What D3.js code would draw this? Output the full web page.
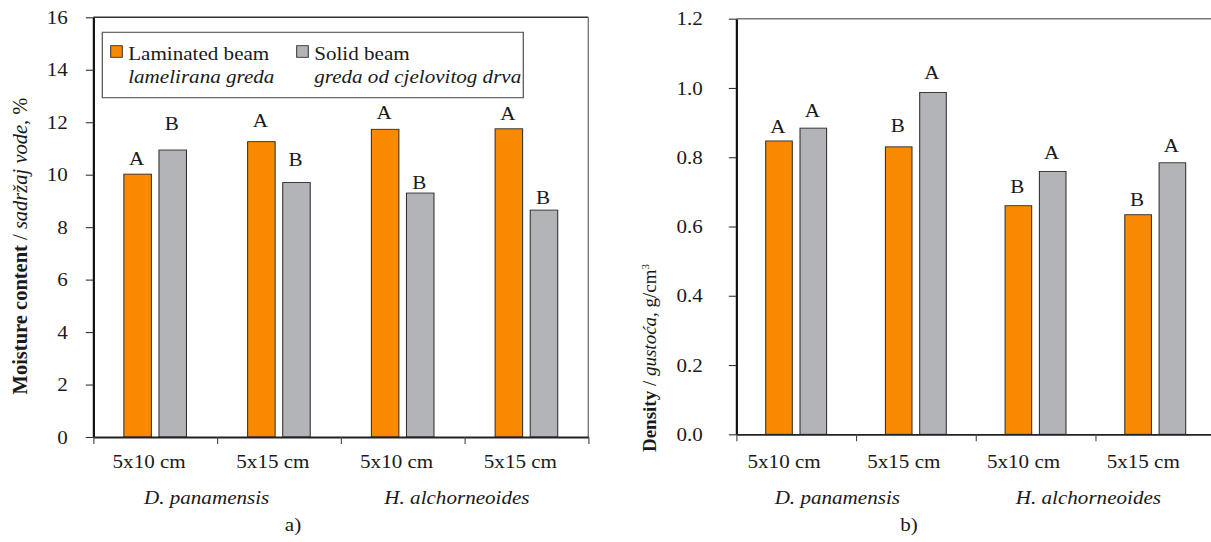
<!DOCTYPE html>
<html>
<head>
<meta charset="utf-8">
<script src="https://cdn.jsdelivr.net/npm/d3@7"></script>
<style>
  html, body { margin: 0; padding: 0; background: #fff; }
  svg { display: block; }
  text { font-family: "Liberation Serif", "Times New Roman", serif; fill: #1a1a1a; }
</style>
</head>
<body>
<svg id="fig" width="1211" height="542"></svg>
<script>
// ---- data ----
const sizes = ["5x10 cm", "5x15 cm", "5x10 cm", "5x15 cm"];
const species = ["D. panamensis", "H. alchorneoides"];
const seriesNames = ["Laminated beam", "Solid beam"];
const seriesNamesHr = ["lamelirana greda", "greda od cjelovitog drva"];

// a) moisture content, %
const moistureLaminated = [10.02, 11.26, 11.73, 11.75];
const moistureSolid = [10.94, 9.70, 9.30, 8.65];
const moistureLettersLaminated = ["A", "A", "A", "A"];
const moistureLettersSolid = ["B", "B", "B", "B"];
// value level at which each significance letter sits
const moistureLetterLevelLaminated = [10.36, 11.80, 12.14, 12.08];
const moistureLetterLevelSolid = [11.70, 10.34, 9.47, 8.90];
const moistureTicks = [0, 2, 4, 6, 8, 10, 12, 14, 16];

// b) density, g/cm3
const densityLaminated = [0.847, 0.830, 0.660, 0.634];
const densitySolid = [0.884, 0.987, 0.759, 0.784];
const densityLettersLaminated = ["A", "B", "B", "B"];
const densityLettersSolid = ["A", "A", "A", "A"];
const densityLetterLevelLaminated = [0.870, 0.872, 0.696, 0.659];
const densityLetterLevelSolid = [0.915, 1.025, 0.794, 0.816];
const densityTicks = [0, 0.2, 0.4, 0.6, 0.8, 1.0, 1.2];

// ---- drawing ----
const W = 1211, H = 542;
const SX = 1.14;                // horizontal stretch of the serif lettering
const px = v => v / SX;         // screen x -> user x
const ORANGE = "#f98a00", GREY = "#b3b4b8";
const FONT = 18.5;

const svg = d3.select("#fig")
  .attr("viewBox", `0 0 ${W / SX} ${H}`)
  .attr("preserveAspectRatio", "none");

function panel(o) {
  const g = svg.append("g");
  const x = d3.scaleBand().domain(d3.range(sizes.length)).range([px(o.x0), px(o.x1)]);
  const xb = d3.scaleLinear().domain([0, sizes.length]).range([px(o.x0), px(o.x1)]);
  const y = d3.scaleLinear().domain([0, o.max]).range([o.y0, o.yTop]);

  // frame: top and (optional) right border
  g.append("line").attr("x1", px(o.x0)).attr("x2", px(o.x1))
    .attr("y1", y(o.max)).attr("y2", y(o.max))
    .attr("stroke", o.topColor).attr("stroke-width", 1.6);
  if (o.rightBorder) {
    g.append("line").attr("x1", px(o.x1)).attr("x2", px(o.x1))
      .attr("y1", y(o.max)).attr("y2", y(0))
      .attr("stroke", "#777").attr("stroke-width", 1.2);
  }

  // bars
  const bw = px(o.barW), gap = px(o.gap);
  const series = [
    { vals: o.lam, color: ORANGE, letters: o.lamLetters, levels: o.lamLevels, dx: -gap / 2 - bw },
    { vals: o.sol, color: GREY, letters: o.solLetters, levels: o.solLevels, dx: gap / 2 }
  ];
  series.forEach(s => {
    const cx = i => x(i) + x.bandwidth() / 2 + s.dx;
    g.selectAll(null).data(s.vals).join("rect")
      .attr("x", (d, i) => cx(i)).attr("width", bw)
      .attr("y", d => y(d)).attr("height", d => y(0) - y(d))
      .attr("fill", s.color).attr("stroke", "#2b2b2b").attr("stroke-width", 0.9);
    g.selectAll(null).data(s.letters).join("text")
      .attr("x", (d, i) => cx(i) + bw / 2 - px(1))
      .attr("y", (d, i) => y(s.levels[i]))
      .attr("text-anchor", "middle").attr("font-size", FONT)
      .text(d => d);
  });

  // y axis
  const ya = g.append("g").attr("transform", `translate(${px(o.x0)},0)`)
    .call(d3.axisLeft(y).tickValues(o.ticks).tickFormat(o.fmt)
      .tickSize(px(7.5)).tickSizeOuter(0).tickPadding(px(o.labelGap)));
  ya.select(".domain").attr("stroke", "#111").attr("stroke-width", px(2.2));
  ya.selectAll(".tick line").attr("stroke", "#333").attr("stroke-width", 1.1);
  ya.selectAll(".tick text").attr("font-size", FONT).attr("font-family", null)
    .attr("fill", "#1a1a1a").attr("dy", "0.33em");

  // x axis with ticks on the category boundaries
  const xa = g.append("g").attr("transform", `translate(0,${y(0)})`)
    .call(d3.axisBottom(xb).tickValues(d3.range(sizes.length + 1))
      .tickFormat("").tickSize(7).tickSizeOuter(0));
  xa.select(".domain").attr("stroke", "#222").attr("stroke-width", 1.8);
  xa.selectAll(".tick line").attr("stroke", "#444").attr("stroke-width", px(1.1));

  // category labels
  g.selectAll(null).data(sizes).join("text")
    .attr("x", (d, i) => x(i) + x.bandwidth() / 2 + px(o.catShift))
    .attr("y", 468).attr("text-anchor", "middle").attr("font-size", FONT)
    .text(d => d);

  // species labels under each pair of categories
  g.selectAll(null).data(species).join("text")
    .attr("x", (d, i) => xb(2 * i + 1) + px(o.spShift[i]))
    .attr("y", 504).attr("text-anchor", "middle").attr("font-size", FONT)
    .attr("font-style", "italic")
    .text(d => d);

  // panel letter
  g.append("text").attr("x", px(o.tagX)).attr("y", 531)
    .attr("text-anchor", "middle").attr("font-size", FONT).text(o.tag);

  // rotated axis title (undo the horizontal stretch so glyphs keep their shape)
  const t = g.append("text")
    .attr("transform", `translate(${px(o.titleX)},${o.titleY}) scale(${1 / SX},1) rotate(-90)`)
    .attr("text-anchor", "middle").attr("font-size", o.titleSize);
  o.title(t);
  return { x, y };
}

// a) moisture content
panel({
  x0: 93.3, x1: 588.3, yTop: 17.3, y0: 437, max: 16,
  ticks: moistureTicks, fmt: d3.format("d"), labelGap: 18,
  lam: moistureLaminated, sol: moistureSolid,
  lamLetters: moistureLettersLaminated, solLetters: moistureLettersSolid,
  lamLevels: moistureLetterLevelLaminated, solLevels: moistureLetterLevelSolid,
  barW: 27.5, gap: 7.6, topColor: "#333", rightBorder: true,
  catShift: -6, spShift: [-10.4, -7.6], tag: "a)", tagX: 293,
  titleX: 27, titleY: 246, titleSize: 20.5,
  title: t => {
    t.append("tspan").attr("font-weight", "bold").text("Moisture content");
    t.append("tspan").text(" / ");
    t.append("tspan").attr("font-style", "italic").text("sadržaj vode,");
    t.append("tspan").text("  %");
  }
});

// b) density
panel({
  x0: 736.3, x1: 736.3 + 4 * 119.7, yTop: 18.7, y0: 434.3, max: 1.2,
  ticks: densityTicks, fmt: d3.format(".1f"), labelGap: 26,
  lam: densityLaminated, sol: densitySolid,
  lamLetters: densityLettersLaminated, solLetters: densityLettersSolid,
  lamLevels: densityLetterLevelLaminated, solLevels: densityLetterLevelSolid,
  barW: 26.6, gap: 7.7, topColor: "#7a7a7a", rightBorder: false,
  catShift: -12, spShift: [-18.7, -7], tag: "b)", tagX: 909,
  titleX: 656, titleY: 358, titleSize: 19,
  title: t => {
    t.append("tspan").attr("font-weight", "bold").text("Density");
    t.append("tspan").text(" / ");
    t.append("tspan").attr("font-style", "italic").text("gustoća,");
    t.append("tspan").text(" g/cm");
    t.append("tspan").attr("font-size", 11).attr("dy", -7).text("3");
  }
});

// legend (panel a)
const lg = svg.append("g");
lg.append("rect").attr("x", px(102.3)).attr("y", 32.3)
  .attr("width", px(523.3 - 102.3)).attr("height", 97.7 - 32.3)
  .attr("fill", "#fff").attr("stroke", "#555").attr("stroke-width", 1.1);
const legX = [110.7, 296.7];
[ORANGE, GREY].forEach((c, i) => {
  lg.append("rect").attr("x", px(legX[i])).attr("y", 45.7)
    .attr("width", px(11.6)).attr("height", 11.6)
    .attr("fill", c).attr("stroke", "#333").attr("stroke-width", 0.9);
  lg.append("text").attr("x", px(legX[i] + 17.5)).attr("y", 60)
    .attr("font-size", FONT).text(seriesNames[i]);
  lg.append("text").attr("x", px(legX[i] + 17.5)).attr("y", 83.3)
    .attr("font-size", FONT).attr("font-style", "italic").text(seriesNamesHr[i]);
});
</script>
</body>
</html>
